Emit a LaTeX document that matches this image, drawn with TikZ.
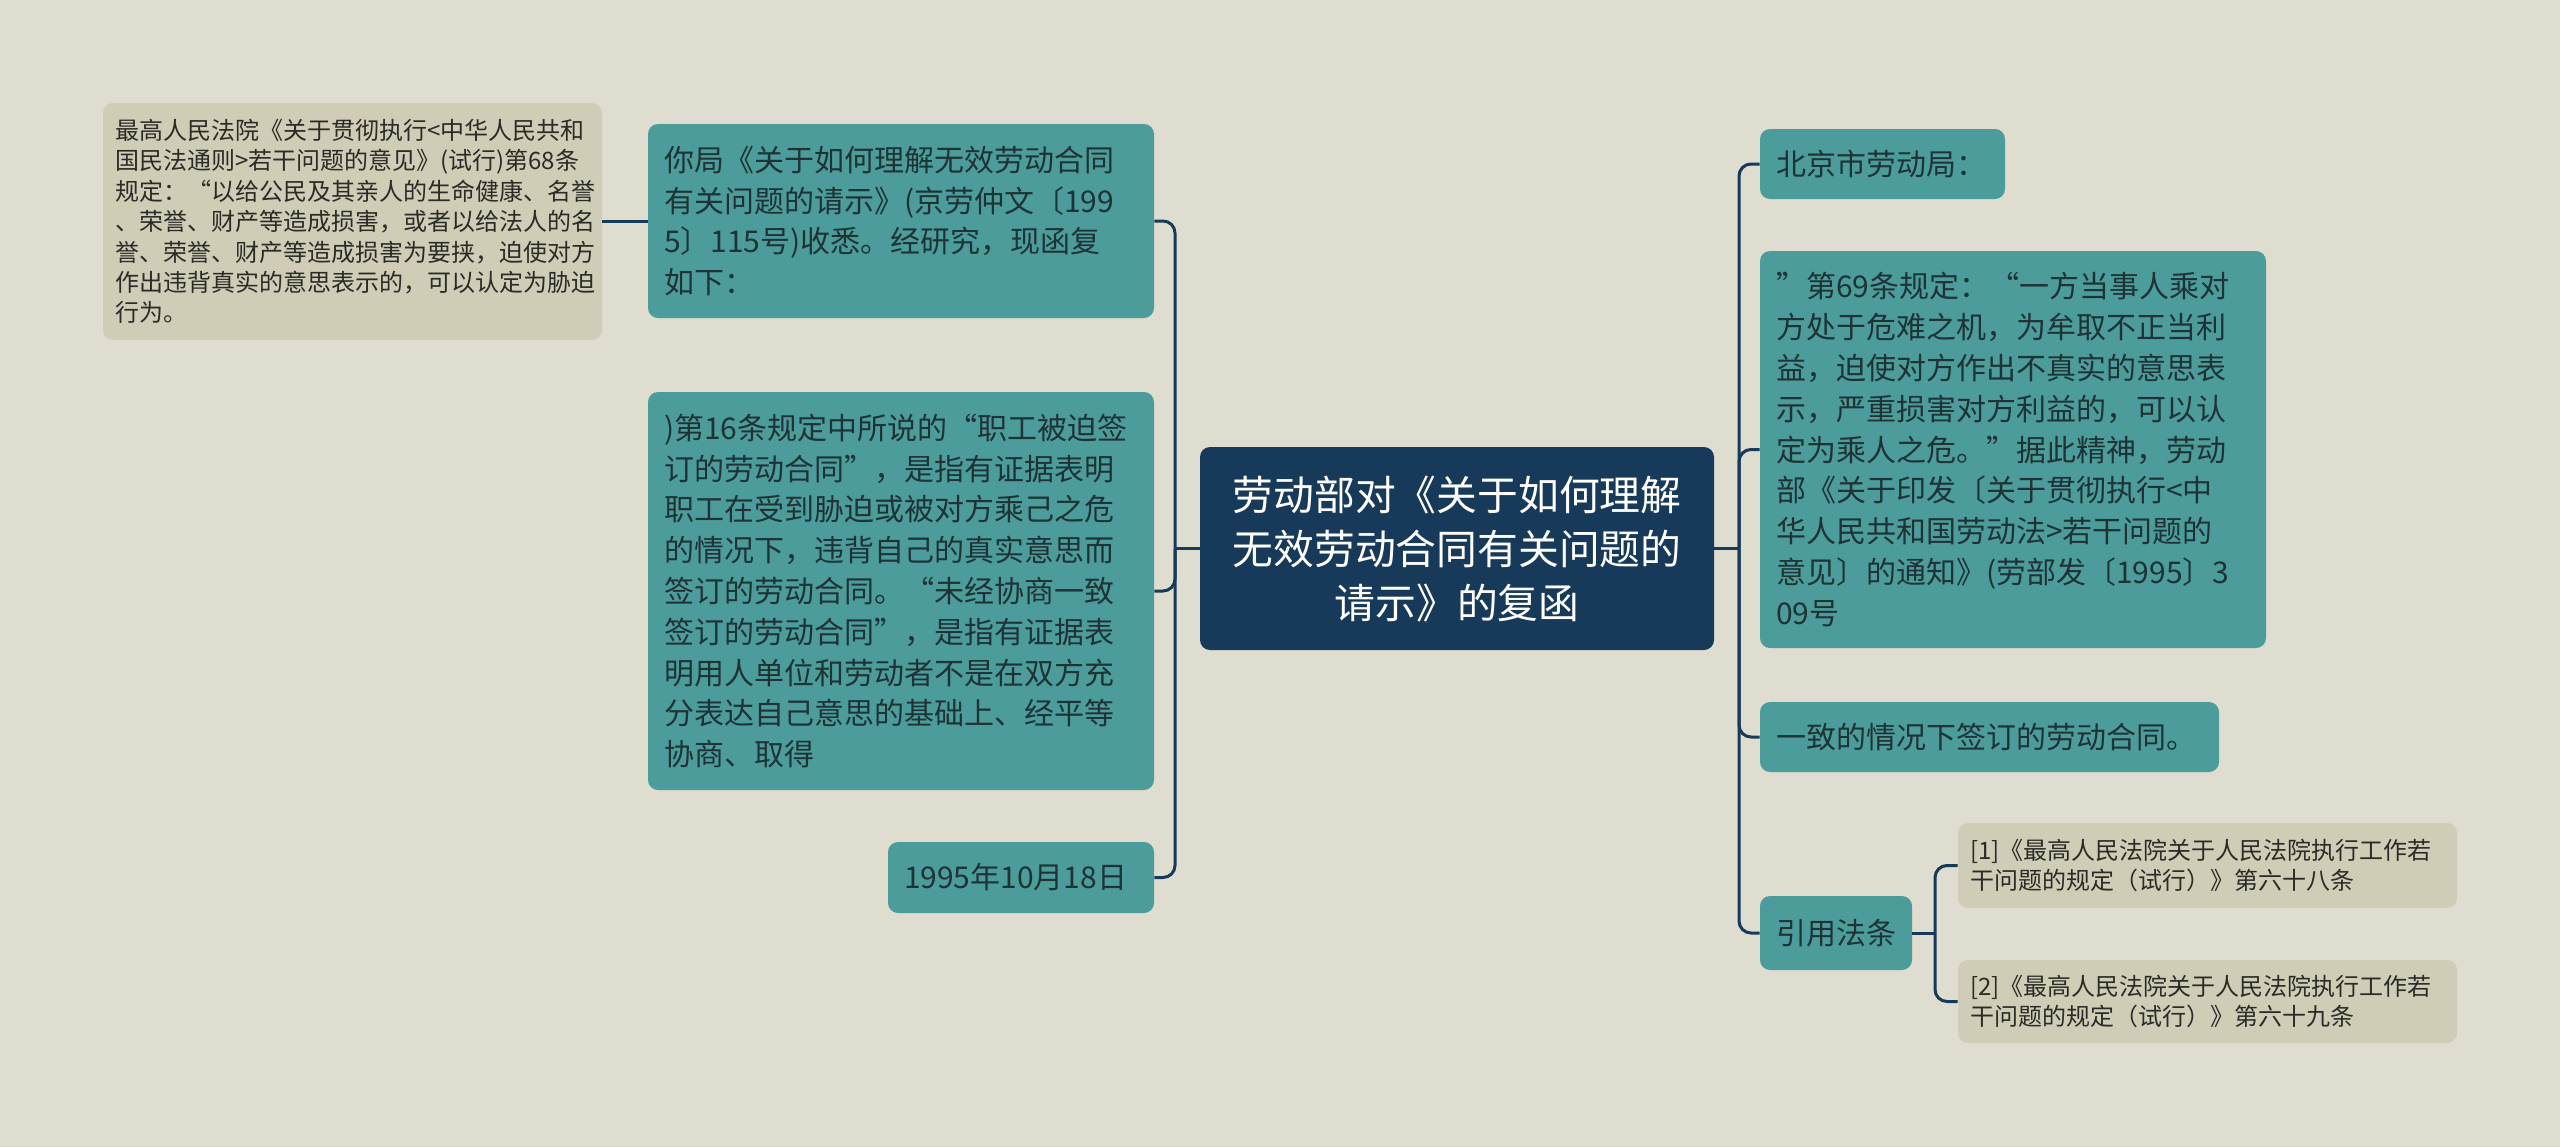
\documentclass[tikz,border=0pt]{standalone}
\usepackage{fontspec}
\setmainfont{Noto Sans CJK SC}
\definecolor{bgcol}{HTML}{DFDDCF}
\definecolor{tealfill}{HTML}{4D9C9C}
\definecolor{tealtext}{HTML}{1E3335}
\definecolor{navy}{HTML}{173A5A}
\definecolor{grayfill}{HTML}{CFCDB6}
\definecolor{graytext}{HTML}{2B2B27}
\tikzset{
  topic/.style={rectangle, rounded corners=5pt, fill=tealfill, text=tealtext,
    align=left, inner xsep=8pt, inner ysep=0pt,
    font=\fontsize{15pt}{20.4pt}\selectfont},
  note/.style={rectangle, rounded corners=5pt, fill=grayfill, text=graytext,
    align=left, inner xsep=6pt, inner ysep=0pt,
    font=\fontsize{12pt}{15.2pt}\selectfont},
  rootbox/.style={rectangle, rounded corners=5pt, fill=navy, text=white,
    align=center, inner sep=0pt,
    font=\fontsize{20.4pt}{27pt}\selectfont},
  link/.style={draw=navy, line width=1.5pt, rounded corners=6pt}
}
\begin{document}
\begin{tikzpicture}[x=0.5pt,y=-0.5pt]
    % Background
    \fill[bgcol] (0,0) rectangle (2560,1147);

    % Root
    \node[rootbox, minimum width=257pt, minimum height=101.5pt, text width=245pt] (root) at (1457,548.5)
        {劳动部对《关于如何理解\\无效劳动合同有关问题的\\请示》的复函};

    % Left branch
    \node[topic, text width=237pt, minimum height=97pt] (reply) at (901,221)
        {你局《关于如何理解无效劳动合同\\有关问题的请示》(京劳仲文〔199\\5〕115号)收悉。经研究，现函复\\如下：};
    \node[topic, text width=237pt, minimum height=199pt] (clause16) at (901,591)
        {)第16条规定中所说的“职工被迫签\\订的劳动合同”，是指有证据表明\\职工在受到胁迫或被对方乘己之危\\的情况下，违背自己的真实意思而\\签订的劳动合同。“未经协商一致\\签订的劳动合同”，是指有证据表\\明用人单位和劳动者不是在双方充\\分表达自己意思的基础上、经平等\\协商、取得};
    \node[topic, text width=117pt, minimum height=35.5pt] (date) at (1021,877.5)
        {1995年10月18日};
    \node[note, text width=237.5pt, minimum height=118.5pt] (law68) at (352.5,221.5)
        {最高人民法院《关于贯彻执行<中华人民共和\\国民法通则>若干问题的意见》(试行)第68条\\规定：“以给公民及其亲人的生命健康、名誉\\、荣誉、财产等造成损害，或者以给法人的名\\誉、荣誉、财产等造成损害为要挟，迫使对方\\作出违背真实的意思表示的，可以认定为胁迫\\行为。};

    % Right branch
    \node[topic, text width=106.5pt, minimum height=35pt] (bureau) at (1882.5,164)
        {北京市劳动局：};
    \node[topic, text width=237pt, minimum height=198.5pt] (clause69) at (2013,449.5)
        {”第69条规定：“一方当事人乘对\\方处于危难之机，为牟取不正当利\\益，迫使对方作出不真实的意思表\\示，严重损害对方利益的，可以认\\定为乘人之危。”据此精神，劳动\\部《关于印发〔关于贯彻执行<中\\华人民共和国劳动法>若干问题的\\意见〕的通知》(劳部发〔1995〕3\\09号};
    \node[topic, text width=213.5pt, minimum height=35pt] (tail) at (1989.5,737)
        {一致的情况下签订的劳动合同。};
    \node[topic, text width=60pt, minimum height=37pt] (cite) at (1836,933)
        {引用法条};
    \node[note, text width=237.5pt, minimum height=42.5pt] (citeA) at (2207.5,865.5)
        {[1]《最高人民法院关于人民法院执行工作若\\干问题的规定（试行）》第六十八条};
    \node[note, text width=237.5pt, minimum height=41.5pt] (citeB) at (2207.5,1001.5)
        {[2]《最高人民法院关于人民法院执行工作若\\干问题的规定（试行）》第六十九条};

    % Connectors
    \coordinate (lj) at (1175,548.5);
    \coordinate (rj) at (1739,548.5);
    \coordinate (sj) at (1935,933);
    \draw[link] (root.west) -- (lj);
    \draw[link] (lj) |- (reply.east);
    \draw[link] (lj) |- (clause16.east);
    \draw[link] (lj) |- (date.east);
    \draw[link] (reply.west) -- (reply.west -| law68.east);
    \draw[link] (root.east) -- (rj);
    \draw[link] (rj) |- (bureau.west);
    \draw[link] (rj) |- (clause69.west);
    \draw[link] (rj) |- (tail.west);
    \draw[link] (rj) |- (cite.west);
    \draw[link] (cite.east) -- (sj);
    \draw[link] (sj) |- (citeA.west);
    \draw[link] (sj) |- (citeB.west);
\end{tikzpicture}
\end{document}
